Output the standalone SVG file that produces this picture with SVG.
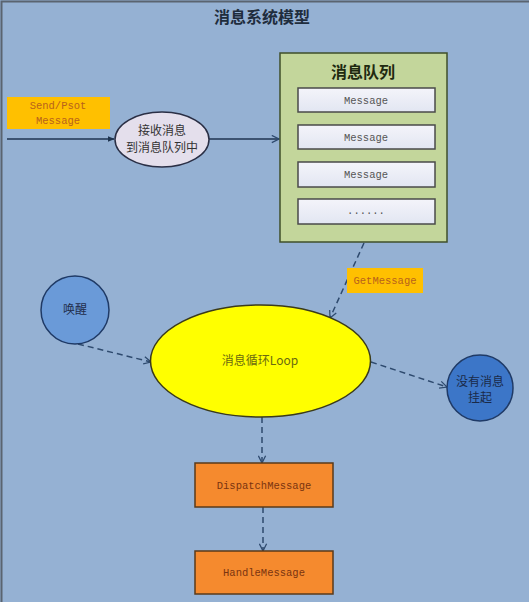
<svg xmlns="http://www.w3.org/2000/svg" width="529" height="602" viewBox="0 0 529 602">
<defs>
<style>
.cn{font-family:"Noto Sans CJK SC","Noto Sans",sans-serif;}
.mono{font-family:"Liberation Mono",monospace;}
.dash{fill:none;stroke:#2e4a6e;stroke-width:1.5;stroke-dasharray:6 4;}
.solid{fill:none;stroke:#1f3550;stroke-width:1.5;}
.msg{fill:url(#msgGrad);stroke:#4a4a4a;stroke-width:1.5;}
.msgt{font-size:10.5px;fill:#555;text-anchor:middle;}
.orange{fill:#f58a2e;stroke:#5a3a1a;stroke-width:1.5;}
.ot{font-size:10.5px;fill:#7a3410;text-anchor:middle;}
.tag{fill:#ffc000;}
.tagt{font-size:10.5px;fill:#b8621c;text-anchor:middle;}
</style>
<linearGradient id="msgGrad" x1="0" y1="0" x2="0" y2="1">
<stop offset="0" stop-color="#f4f4fa"/>
<stop offset="1" stop-color="#e2e6f2"/>
</linearGradient>
<marker id="openArrow" viewBox="0 0 10 10" refX="9" refY="5" markerWidth="9" markerHeight="9" orient="auto" markerUnits="userSpaceOnUse">
<path d="M1,1 L9,5 L1,9" fill="none" stroke="#2e4a6e" stroke-width="1.4"/>
</marker>
<marker id="solidArrow" viewBox="0 0 10 10" refX="9" refY="5" markerWidth="7" markerHeight="7" orient="auto" markerUnits="userSpaceOnUse">
<path d="M0,1 L10,5 L0,9 Z" fill="#1f3550"/>
</marker>
</defs>
<rect x="0" y="0" width="529" height="602" fill="#95b1d3"/>
<path d="M1.5,602 L1.5,1.5 L529,1.5" fill="none" stroke="#5a6470" stroke-width="2"/>
<text class="cn" x="262" y="23" font-size="16" font-weight="bold" fill="#1f2d3d" text-anchor="middle">消息系统模型</text>

<g id="connectors">
<line class="solid" x1="7" y1="139" x2="114" y2="139" marker-end="url(#solidArrow)"/>
<line class="solid" x1="209" y1="139" x2="279" y2="139" marker-end="url(#openArrow)"/>
<line class="dash" x1="364" y1="243" x2="330" y2="318" marker-end="url(#openArrow)"/>
<line class="dash" x1="78" y1="344" x2="151" y2="362" marker-end="url(#openArrow)"/>
<line class="dash" x1="371" y1="362" x2="447" y2="387" marker-end="url(#openArrow)"/>
<line class="dash" x1="262" y1="417" x2="262" y2="463" marker-end="url(#openArrow)"/>
<line class="dash" x1="263" y1="507" x2="263" y2="551" marker-end="url(#openArrow)"/>
</g>

<g id="send-label">
<rect class="tag" x="7" y="97" width="103" height="32"/>
<text class="mono tagt" x="58" y="109">Send/Psot</text>
<text class="mono tagt" x="58" y="124">Message</text>
</g>

<g id="receive">
<ellipse cx="162" cy="139.5" rx="47" ry="27.5" fill="#e4dfec" stroke="#2a2f45" stroke-width="1.5"/>
<text class="cn" x="162" y="135" font-size="12" fill="#333" text-anchor="middle">接收消息</text>
<text class="cn" x="162" y="152" font-size="12" fill="#333" text-anchor="middle">到消息队列中</text>
</g>

<g id="queue">
<rect x="280" y="53" width="167" height="189" fill="#c3d69b" stroke="#3f4f2a" stroke-width="1.5"/>
<text class="cn" x="363" y="78" font-size="16" font-weight="bold" fill="#1f2a10" text-anchor="middle">消息队列</text>
<rect class="msg" x="298" y="88" width="137" height="24"/>
<text class="mono msgt" x="366" y="104">Message</text>
<rect class="msg" x="298" y="125" width="137" height="24"/>
<text class="mono msgt" x="366" y="141">Message</text>
<rect class="msg" x="298" y="162" width="137" height="25"/>
<text class="mono msgt" x="366" y="178">Message</text>
<rect class="msg" x="298" y="199" width="137" height="25"/>
<text class="mono msgt" x="366" y="214">......</text>
</g>

<g id="getmessage-label">
<rect class="tag" x="347" y="268" width="76" height="25"/>
<text class="mono tagt" x="385" y="284">GetMessage</text>
</g>

<g id="wakeup">
<circle cx="75" cy="310" r="34" fill="#6a9ad8" stroke="#1f3a66" stroke-width="1.5"/>
<text class="cn" x="75" y="314" font-size="12" fill="#1f2d4a" text-anchor="middle">唤醒</text>
</g>

<g id="loop">
<ellipse cx="260.5" cy="361" rx="110" ry="56" fill="#ffff00" stroke="#3a3a1a" stroke-width="1.5"/>
<text class="cn" x="260" y="365" font-size="12" fill="#6a6a10" text-anchor="middle">消息循环Loop</text>
</g>

<g id="suspend">
<circle cx="480" cy="388" r="33" fill="#3c76c8" stroke="#1f3a66" stroke-width="1.5"/>
<text class="cn" x="480" y="386" font-size="12" fill="#1a2a48" text-anchor="middle">没有消息</text>
<text class="cn" x="480" y="402" font-size="12" fill="#1a2a48" text-anchor="middle">挂起</text>
</g>

<g id="dispatch">
<rect class="orange" x="195" y="463" width="138" height="44"/>
<text class="mono ot" x="264" y="489">DispatchMessage</text>
</g>

<g id="handle">
<rect class="orange" x="195" y="551" width="138" height="43"/>
<text class="mono ot" x="264" y="576">HandleMessage</text>
</g>
</svg>
